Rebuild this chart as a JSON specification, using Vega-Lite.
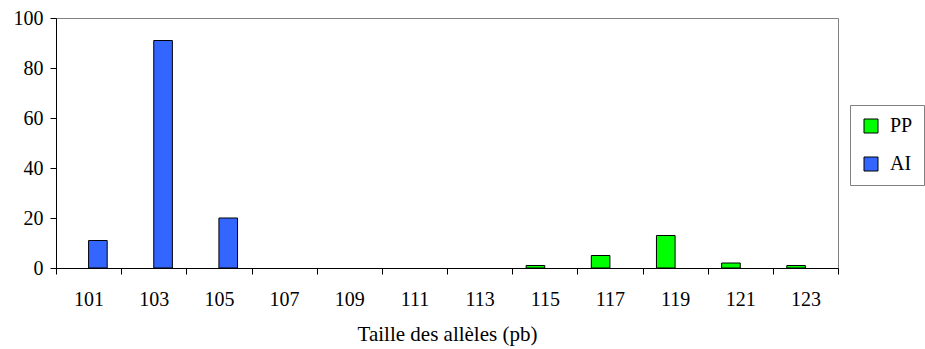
{
  "$schema": "https://vega.github.io/schema/vega-lite/v6.json",
  "autosize": {"type": "none"},
  "padding": {"left": 56, "top": 18, "right": 87, "bottom": 81},
  "width": 782,
  "height": 250,
  "background": "white",
  "config": {
    "view": {"stroke": "#808080", "strokeWidth": 1},
    "font": "Liberation Serif, Times New Roman, serif"
  },
  "data": {
    "values": [
      {"taille": "101", "serie": "AI", "valeur": 11},
      {"taille": "103", "serie": "AI", "valeur": 91},
      {"taille": "105", "serie": "AI", "valeur": 20},
      {"taille": "115", "serie": "PP", "valeur": 1},
      {"taille": "117", "serie": "PP", "valeur": 5},
      {"taille": "119", "serie": "PP", "valeur": 13},
      {"taille": "121", "serie": "PP", "valeur": 2},
      {"taille": "123", "serie": "PP", "valeur": 1}
    ]
  },
  "mark": {"type": "bar", "stroke": "black", "strokeWidth": 1},
  "encoding": {
    "x": {
      "field": "taille",
      "type": "ordinal",
      "scale": {
        "domain": ["101", "103", "105", "107", "109", "111", "113", "115", "117", "119", "121", "123"],
        "paddingInner": 0,
        "paddingOuter": 0
      },
      "axis": {
        "title": "Taille des allèles (pb)",
        "titleFont": "Liberation Serif, Times New Roman, serif",
        "titleFontSize": 21,
        "titleFontWeight": "normal",
        "titleColor": "black",
        "titlePadding": 14,
        "labelAngle": 0,
        "labelFont": "Liberation Serif, Times New Roman, serif",
        "labelFontSize": 20,
        "labelColor": "black",
        "labelPadding": 15,
        "tickBand": "extent",
        "tickSize": 6,
        "tickColor": "black",
        "domainColor": "black",
        "grid": false
      }
    },
    "xOffset": {
      "field": "serie",
      "type": "nominal",
      "scale": {"domain": ["PP", "AI"], "paddingInner": 0, "paddingOuter": 0.75}
    },
    "y": {
      "field": "valeur",
      "type": "quantitative",
      "stack": null,
      "scale": {"domain": [0, 100], "nice": false},
      "axis": {
        "title": null,
        "values": [0, 20, 40, 60, 80, 100],
        "labelFont": "Liberation Serif, Times New Roman, serif",
        "labelFontSize": 20,
        "labelColor": "black",
        "labelPadding": 7,
        "tickSize": 6,
        "tickColor": "black",
        "domainColor": "black",
        "grid": false
      }
    },
    "color": {
      "field": "serie",
      "type": "nominal",
      "scale": {"domain": ["PP", "AI"], "range": ["#00FF00", "#3366FF"]},
      "legend": {
        "title": null,
        "orient": "none",
        "legendX": 794,
        "legendY": 87,
        "symbolType": "square",
        "symbolSize": 196,
        "symbolStrokeColor": "black",
        "symbolStrokeWidth": 1,
        "symbolOpacity": 1,
        "labelFont": "Liberation Serif, Times New Roman, serif",
        "labelFontSize": 20,
        "labelColor": "black",
        "labelOffset": 9,
        "rowPadding": 18,
        "strokeColor": "#808080",
        "padding": 11,
        "fillColor": "white"
      }
    }
  }
}
